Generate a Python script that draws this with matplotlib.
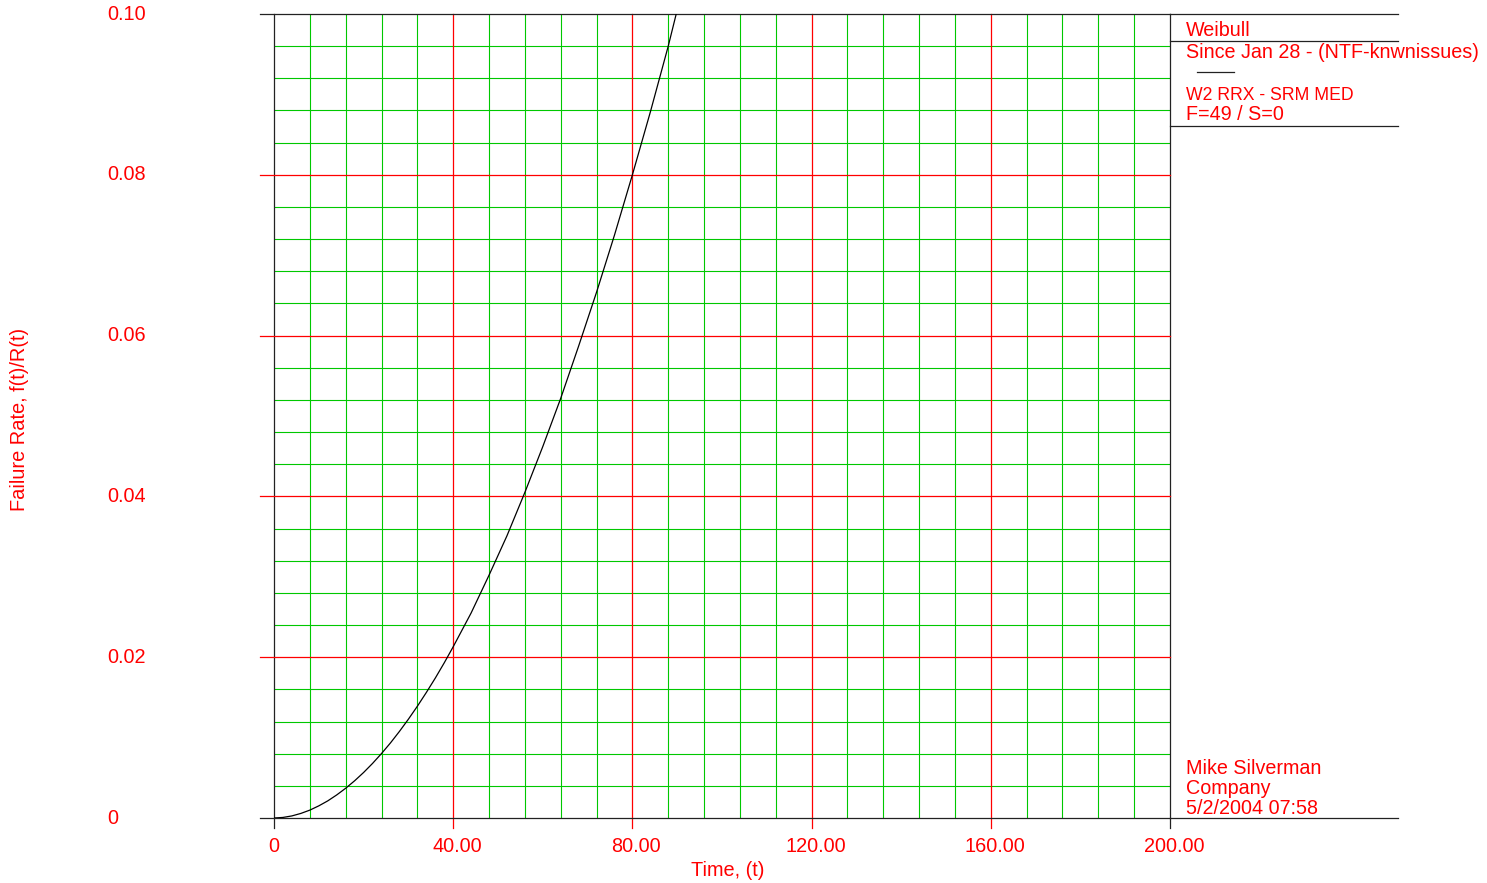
import matplotlib
matplotlib.use("Agg")
import matplotlib.pyplot as plt
import matplotlib.transforms as mtransforms
from matplotlib.lines import Line2D
import numpy as np

plt.rcParams["font.family"] = ["Liberation Sans", "DejaVu Sans"]

# failure rate curve
time_pts = [0, 2, 4, 6, 8, 10, 12, 14, 16, 18, 20, 22, 24, 26, 28, 30, 32,
            34, 36, 38, 40, 44, 48, 52, 56, 60, 64, 68, 72, 76, 80, 84, 88, 92]
rate_pts = [0.0, 0.00007, 0.00026, 0.00057, 0.00098, 0.00151, 0.00213,
            0.00287, 0.0037, 0.00463, 0.00566, 0.00679, 0.00802, 0.00934,
            0.01077, 0.01229, 0.0139, 0.01561, 0.0174, 0.0193, 0.0213,
            0.0255, 0.0302, 0.0351, 0.0405, 0.0462, 0.0522, 0.0587, 0.0654,
            0.0725, 0.0800, 0.0878, 0.0960, 0.1050]

x_major = [0, 40, 80, 120, 160, 200]
x_labels = ["0", "40.00", "80.00", "120.00", "160.00", "200.00"]
y_major = [0, 0.02, 0.04, 0.06, 0.08, 0.10]
y_labels = ["0", "0.02", "0.04", "0.06", "0.08", "0.10"]

header_lines = ["Weibull", "Since Jan 28 - (NTF-knwnissues)"]
info_lines = ["W2 RRX - SRM MED", "F=49 / S=0"]
footer_lines = ["Mike Silverman", "Company", "5/2/2004 07:58"]

RED = "#ff0000"
GREEN = "#00c800"
DARK = "#222222"
W, H = 1487, 883


def fx(px):
    return px / W


def fy(py):
    return 1 - py / H


fig = plt.figure(figsize=(W / 100, H / 100), dpi=100)
ax = fig.add_axes([fx(274), fy(818), fx(1170) - fx(274), fy(14) - fy(818)])
ax.set_xlim(0, 200)
ax.set_ylim(0, 0.1)
for s in ax.spines.values():
    s.set_visible(False)
ax.set_xticks([])
ax.set_yticks([])

# minor grid
for xv in np.arange(8, 200, 8):
    if xv % 40:
        ax.axvline(xv, color=GREEN, lw=0.8, zorder=1)
for yv in np.arange(0.004, 0.1, 0.004):
    if round(yv / 0.004) % 5:
        ax.axhline(yv, color=GREEN, lw=0.8, zorder=1)

# major grid, extended outside as ticks
xt = ax.get_xaxis_transform()
yt = ax.get_yaxis_transform()
ext_x = 14 / 896
ext_y = 10 / 804
for xv in x_major:
    c = DARK if xv in (0, 200) else RED
    ax.plot([xv, xv], [-ext_y, 1], color=c, lw=0.9, transform=xt,
            clip_on=False, zorder=2)
for yv in y_major:
    c = DARK if yv in (0, 0.1) else RED
    ax.plot([-ext_x, 1], [yv, yv], color=c, lw=0.9, transform=yt,
            clip_on=False, zorder=2)

ax.plot(time_pts, rate_pts, color="black", lw=0.9, zorder=3)

# tick labels
shift = mtransforms.ScaledTranslation(4 / 100, 0, fig.dpi_scale_trans)
for xv, lab in zip(x_major, x_labels):
    t = ax.text(xv, -29 / 804, lab, transform=xt, ha="center", va="center",
                color=RED, fontsize=14.3)
    if xv:
        t.set_transform(xt + shift)
for yv, lab in zip(y_major, y_labels):
    ax.text(-167 / 896, yv, lab, transform=yt, ha="left", va="center",
            color=RED, fontsize=14.3)

fig.text(fx(728), fy(870), "Time, (t)", ha="center", va="center",
         color=RED, fontsize=14.3)
fig.text(fx(20), fy(419), "Failure Rate, f(t)/R(t)", ha="center",
         va="center", rotation=90, color=RED, fontsize=14.4)

# right-hand legend panel
for y0, x0, x1 in [(14, 1170, 1398), (41, 1170, 1398), (72, 1197, 1234),
                   (126, 1170, 1398), (818, 1170, 1398)]:
    fig.add_artist(Line2D([fx(x0), fx(x1)], [fy(y0), fy(y0)],
                          color=DARK, lw=0.9))

for yc, txt in zip([30, 52], header_lines):
    fig.text(fx(1186), fy(yc), txt, ha="left", va="center", color=RED,
             fontsize=14.2)
for yc, txt, fs in zip([95, 115], info_lines, [12.7, 14.2]):
    fig.text(fx(1186), fy(yc), txt, ha="left", va="center", color=RED,
             fontsize=fs)
for yc, txt in zip([768, 788, 808], footer_lines):
    fig.text(fx(1186), fy(yc), txt, ha="left", va="center", color=RED,
             fontsize=14.2)

fig.savefig("out.png", dpi=100)
